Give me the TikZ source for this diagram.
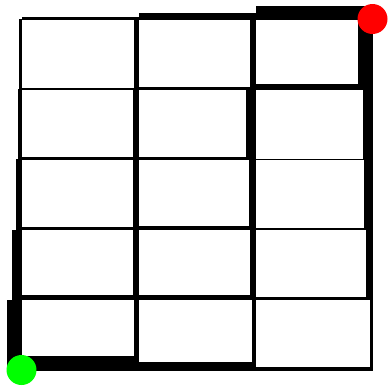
\documentclass[tikz,border=0pt]{standalone}
\begin{document}
\begin{tikzpicture}[x=0.1cm, y=-0.1cm]
  \useasboundingbox[fill=white] (0,0) rectangle (388,388);
  % grid points
  \foreach \i in {0,...,3} {
    \foreach \j in {0,...,5} {
      \coordinate (p-\i-\j) at (21.5+117*\i, 19+70.2*\j);
    }
  }
  % vertical edges: column / row / width
  \foreach \i / \j / \w in {0/0/2.5, 0/1/4, 0/2/6, 0/3/10, 0/4/15, 1/0/4.5, 1/1/5.5, 1/2/5.5, 1/3/5.5, 1/4/4.5,
                            2/0/6, 2/1/9.5, 2/2/7, 2/3/5.5, 2/4/3.5, 3/0/14.8, 3/1/9.5, 3/2/9, 3/3/7, 3/4/3} {
    \pgfmathtruncatemacro{\k}{\j+1}
    \fill ([xshift=0.5mm]p-\i-\j) rectangle ([xshift=-\w mm]p-\i-\k);
  }
  % horizontal edges: column / row / width
  \foreach \i / \j / \w in {0/0/2, 1/0/6, 2/0/13.5, 0/1/1.5, 1/1/2.5, 2/1/5.5, 0/2/2, 1/2/2, 2/2/0.6,
                            0/3/2.5, 1/3/4, 2/3/1.5, 0/4/5, 1/4/4.5, 2/4/2.8, 0/5/14, 1/5/8.2, 2/5/3.2} {
    \pgfmathtruncatemacro{\k}{\i+1}
    \fill ([yshift=-0.5mm]p-\i-\j) rectangle ([yshift=\w mm]p-\k-\j);
  }
  \node[circle, fill=green, minimum size=3cm, inner sep=0pt] (start) at (p-0-5) {};
  \node[circle, fill=red, minimum size=3cm, inner sep=0pt] (goal) at (p-3-0) {};
\end{tikzpicture}
\end{document}
